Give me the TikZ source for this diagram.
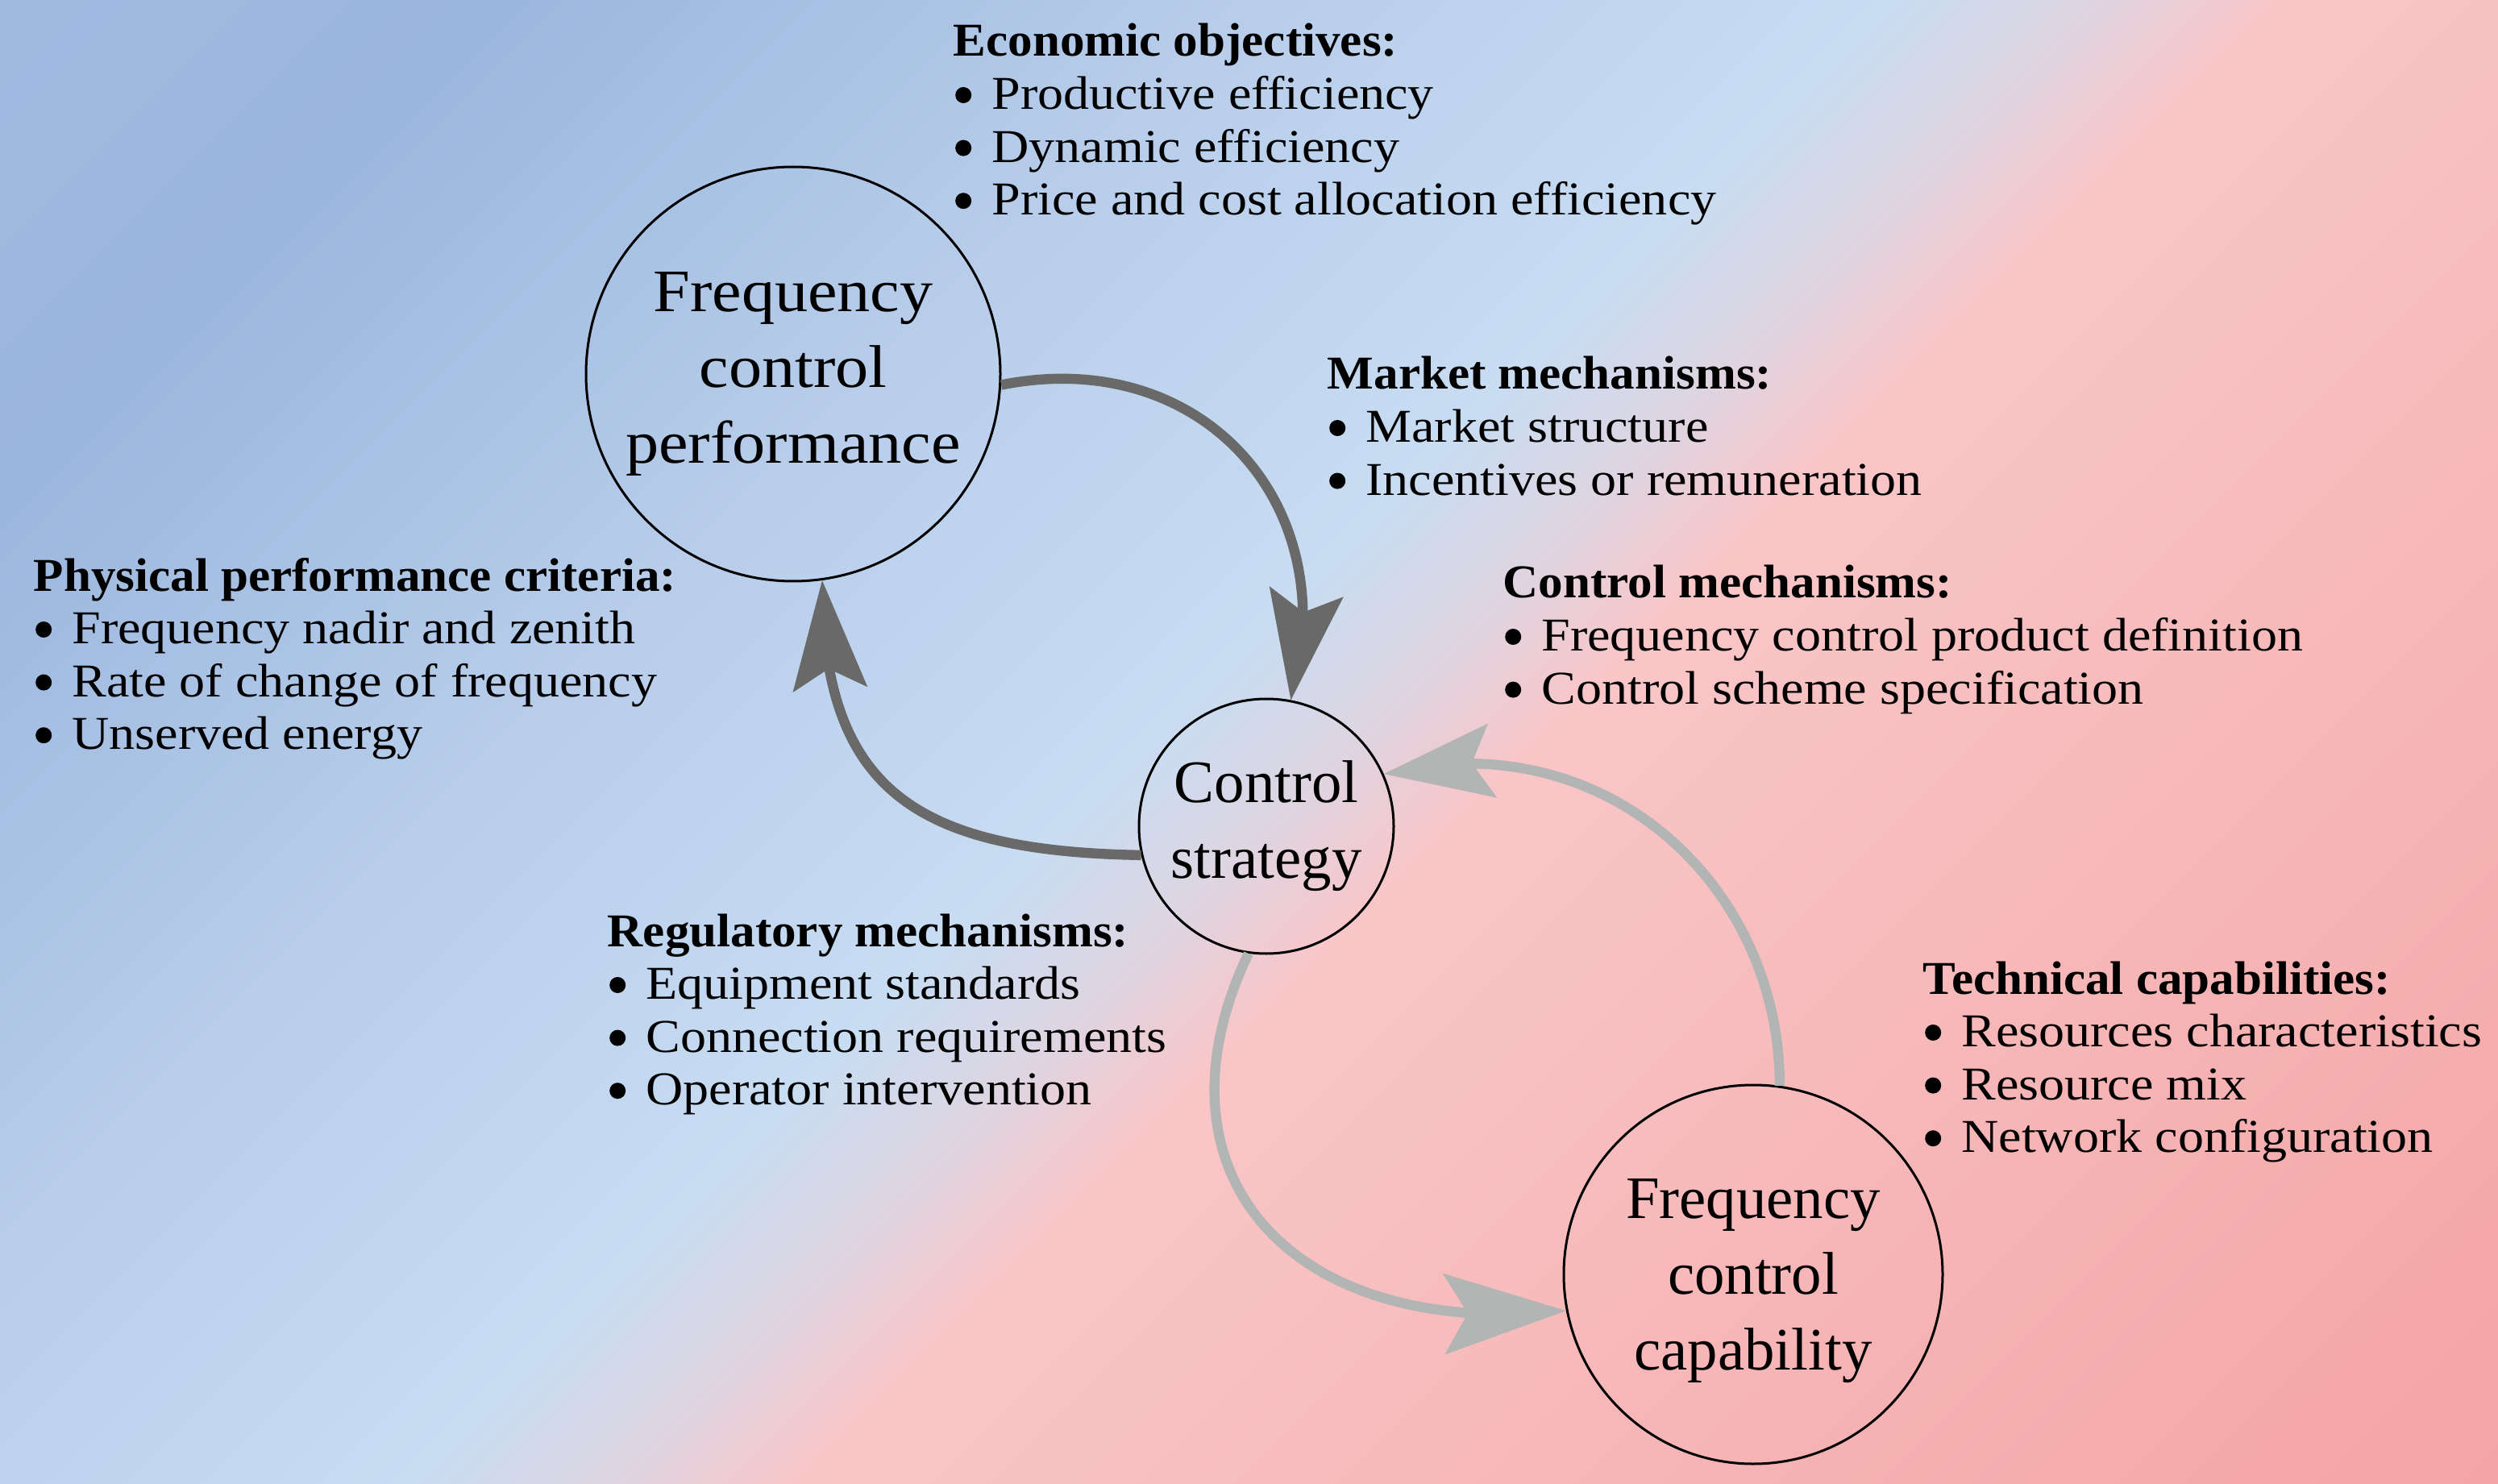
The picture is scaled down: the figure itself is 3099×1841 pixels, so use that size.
\documentclass[tikz,border=0pt]{standalone}
\usepackage{graphicx}
\usepackage{fontspec}
\setmainfont{Liberation Serif}[FakeStretch=1.097, BoldFeatures={FakeStretch=1.046}]
\newfontfamily\circfont{Liberation Serif}
\newfontfamily\circfontw{Liberation Serif}[FakeStretch=1.10]
\usetikzlibrary{arrows.meta,bending}
\definecolor{g0}{HTML}{A0B9DF}
\definecolor{g1}{HTML}{9BB6DD}
\definecolor{g2}{HTML}{B7CDEA}
\definecolor{g3}{HTML}{C8DCF2}
\definecolor{g4}{HTML}{DDD5E2}
\definecolor{g5}{HTML}{F9C6C8}
\definecolor{g6}{HTML}{F8C2C3}
\definecolor{g7}{HTML}{F4A4A4}
\definecolor{arrdark}{HTML}{696969}
\definecolor{arrlight}{HTML}{B3B5B5}
\pgfdeclarehorizontalshading{bgshade}{100bp}{color(0bp)=(g0); color(21.82bp)=(g0); color(28.67bp)=(g1); color(39.39bp)=(g2); color(48.57bp)=(g3); color(51.37bp)=(g4); color(54.11bp)=(g5); color(57.19bp)=(g6); color(78.18bp)=(g7); color(100bp)=(g7)}
\newcommand{\mybul}{\makebox[11.9pt][l]{\hspace{0.6pt}\raisebox{1.9pt}{\tikz\fill[black] (0,0) circle (2.5pt);}}}
\tikzset{
  circ/.style={circle, draw=black, line width=0.75pt, inner sep=0pt, align=center,
    font=\circfont\fontsize{18.7pt}{23.5pt}\selectfont},
  circw/.style={circ, font=\circfontw\fontsize{18.7pt}{23.5pt}\selectfont},
  blk/.style={anchor=base west, inner sep=0pt, font=\fontsize{14.6pt}{16.4pt}\selectfont},
  darkarr/.style={draw=arrdark, line width=3.1pt,
    -{Stealth[length=34pt, width=23.25pt, inset=6.5pt, line width=0pt, flex]}},
  lightarr/.style={draw=arrlight, line width=3.1pt,
    -{Stealth[length=34pt, width=23.25pt, inset=6.5pt, line width=0pt, flex]}},
  lightarrbig/.style={draw=arrlight, line width=3.1pt,
    -{Stealth[length=38pt, width=25.25pt, inset=7.5pt, line width=0pt, flex]}}
}
\begin{document}
\begin{tikzpicture}[x=0.25pt, y=-0.25pt]
\useasboundingbox (0,0) rectangle (3099,1841);
\begin{scope}
  \clip (0,0) rectangle (3099,1841);
  \shade[shading=bgshade, shading angle=-45] (0,-629) rectangle (3099,2470);
\end{scope}

% circles
\node[circw, minimum size=128.5pt] (perf) at (984,464) {Frequency\\control\\performance};
\node[circ, minimum size=79pt] (strat) at (1571,1025) {Control\\strategy};
\node[circ, minimum size=117.5pt] (cap) at (2175,1581) {\rule{0pt}{16.4pt}Frequency\\control\\capability};

% arrows
\draw[darkarr] (perf.-3.6) .. controls +(250,-50) and +(69,-240) .. (strat.79);
\draw[darkarr] (strat.193.3) .. controls +(-280,-5) and +(0,260) .. (perf.-82.9);
\draw[lightarrbig] (strat.-98.5) .. controls +(-129,270) and +(-346,37) .. (cap.191);
\draw[lightarr] (cap.82) .. controls +(0,-250) and +(272,-67) .. (strat.24.8);

% text blocks
\node[blk] (econ) at (1182,70) {\begin{tabular}[t]{@{}l@{}}\textbf{Economic objectives:}\\
\mybul Productive efficiency\\
\mybul Dynamic efficiency\\
\mybul Price and cost allocation efficiency\end{tabular}};
\node[blk] (market) at (1646,483) {\begin{tabular}[t]{@{}l@{}}\textbf{Market mechanisms:}\\
\mybul Market structure\\
\mybul Incentives or remuneration\end{tabular}};
\node[blk] (phys) at (41,733) {\begin{tabular}[t]{@{}l@{}}\textbf{Physical performance criteria:}\\
\mybul Frequency nadir and zenith\\
\mybul Rate of change of frequency\\
\mybul Unserved energy\end{tabular}};
\node[blk] (ctrl) at (1864,742) {\begin{tabular}[t]{@{}l@{}}\textbf{Control mechanisms:}\\
\mybul Frequency control product definition\\
\mybul Control scheme specification\end{tabular}};
\node[blk] (reg) at (753,1174) {\begin{tabular}[t]{@{}l@{}}\textbf{Regulatory mechanisms:}\\
\mybul Equipment standards\\
\mybul Connection requirements\\
\mybul Operator intervention\end{tabular}};
\node[blk] (tech) at (2385,1233) {\begin{tabular}[t]{@{}l@{}}\textbf{Technical capabilities:}\\
\mybul Resources characteristics\\
\mybul Resource mix\\
\mybul Network configuration\end{tabular}};
\end{tikzpicture}
\end{document}
